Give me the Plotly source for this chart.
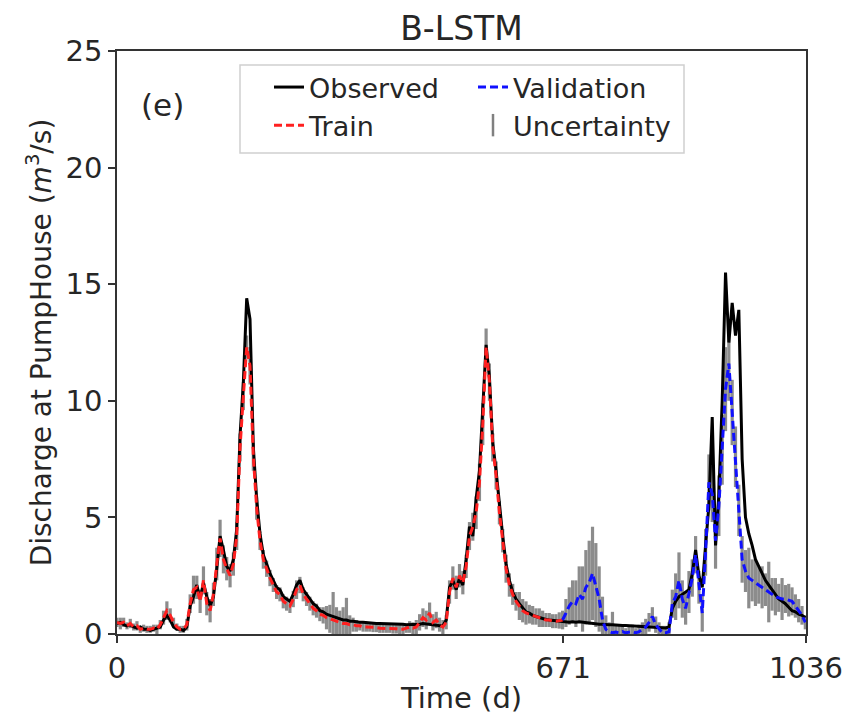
import numpy as np
import plotly.graph_objects as go

# ---------------- data (sampled every 5 days) ----------------
STEP_DAYS = 5

observed = [
    0.45, 0.5, 0.4, 0.35, 0.4, 0.3, 0.25, 0.3, 0.2, 0.2,
    0.15, 0.2, 0.25, 0.3, 0.6, 0.8, 0.6, 0.3, 0.2, 0.2,
    0.15, 0.3, 1.2, 1.6, 2.1, 1.5, 2.2, 1.6, 1.2, 1.6,
    2.8, 4.2, 3.6, 2.9, 2.7, 3.2, 4.5, 8.5, 10.8, 14.4,
    13.5, 8.0, 5.8, 4.3, 3.4, 3.0, 2.6, 2.3, 2.0, 1.9,
    1.6, 1.5, 1.4, 1.7, 2.1, 2.3, 1.9, 1.7, 1.5, 1.3,
    1.2, 1.0, 0.95, 0.85, 0.8, 0.75, 0.7, 0.65, 0.6, 0.6,
    0.55, 0.55, 0.52, 0.5, 0.5, 0.48, 0.48, 0.46, 0.45, 0.45,
    0.45, 0.44, 0.44, 0.43, 0.42, 0.42, 0.42, 0.4, 0.4, 0.4,
    0.4, 0.42, 0.45, 0.44, 0.42, 0.4, 0.38, 0.35, 0.35, 0.6,
    2.0, 2.3, 1.9, 2.4, 2.1, 3.2, 4.6, 4.2, 5.8, 7.0,
    9.5, 12.4, 11.0, 8.2, 7.0, 5.5, 4.2, 3.0, 2.3, 1.8,
    1.5, 1.3, 1.1, 0.95, 0.9, 0.8, 0.75, 0.7, 0.65, 0.62,
    0.6, 0.58, 0.55, 0.55, 0.53, 0.5, 0.5, 0.52, 0.5, 0.52,
    0.5, 0.48, 0.45, 0.45, 0.44, 0.42, 0.42, 0.4, 0.4, 0.4,
    0.38, 0.38, 0.36, 0.36, 0.35, 0.35, 0.34, 0.33, 0.33, 0.32,
    0.3, 0.3, 0.28, 0.27, 0.26, 0.26, 0.3, 1.1, 1.4, 1.6,
    1.7, 1.8, 1.9, 2.6, 3.6, 2.5, 2.0, 3.8, 5.5, 9.3,
    3.8, 6.0, 10.0, 15.5, 12.5, 14.2, 12.8, 13.9, 7.5, 5.0,
    4.3, 3.8, 3.2, 2.9, 2.6, 2.3, 2.1, 1.9, 1.7, 1.5,
    1.4, 1.3, 1.15, 1.0, 0.95, 0.85, 0.8, 0.7,
]

train_pred = [
    0.5, 0.45, 0.5, 0.35, 0.45, 0.3, 0.35, 0.2, 0.25, 0.2,
    0.2, 0.25, 0.2, 0.4, 0.7, 1.0, 0.8, 0.5, 0.3, 0.2,
    0.2, 0.4, 1.3, 1.9, 2.0, 1.4, 2.3, 1.3, 1.0, 1.7,
    3.0, 4.1, 3.2, 2.8, 2.5, 3.0, 4.2, 8.0, 10.2, 12.3,
    11.5, 7.6, 5.4, 4.0, 3.2, 2.8, 2.4, 2.1, 1.8, 1.7,
    1.4, 1.3, 1.2, 1.5, 1.9, 2.1, 1.7, 1.5, 1.3, 1.1,
    1.0, 0.85, 0.8, 0.7, 0.65, 0.6, 0.55, 0.5, 0.45, 0.45,
    0.4, 0.4, 0.35, 0.35, 0.3, 0.3, 0.3, 0.28, 0.28, 0.25,
    0.25, 0.25, 0.25, 0.22, 0.22, 0.2, 0.2, 0.25, 0.3, 0.25,
    0.3, 0.5, 0.7, 0.6, 0.9, 0.5, 0.6, 0.4, 0.3, 0.5,
    1.8, 2.4, 2.0, 2.5, 2.2, 2.9, 4.2, 4.6, 5.2, 6.5,
    9.0, 12.3, 10.8, 8.0, 6.8, 5.2, 4.0, 2.8, 2.1, 1.7,
    1.4, 1.2, 1.0, 0.9, 0.85, 0.8, 0.75, 0.7, 0.65, 0.6,
    0.6, 0.55, 0.55, 0.58, 0.6,
]

val_pred = [
    0.6, 0.9, 1.2, 1.4, 1.3, 1.7, 1.5, 2.0, 2.2, 2.6,
    2.1, 1.5, 0.6, 0.2, 0.1, 0.05, 0.08, 0.05, 0.1, 0.05,
    0.08, 0.1, 0.05, 0.1, 0.2, 0.3, 0.5, 0.75, 0.4, 0.2,
    0.05, 0.05, 0.1, 1.3, 1.6, 2.3, 1.5, 1.1, 1.8, 2.4,
    3.4, 2.0, 0.9, 3.5, 6.5, 6.0, 4.0, 5.5, 7.9, 10.5,
    11.6, 9.5, 7.6, 5.3, 3.2, 2.7, 2.4, 2.3, 2.2, 2.1,
    2.0, 1.9, 1.8, 1.7, 1.6, 1.55, 1.5, 1.5, 1.45, 1.4,
    1.2, 1.0, 0.8, 0.5,
]

uncertainty_half = [
    0.2, 0.25, 0.2, 0.15, 0.2, 0.15, 0.2, 0.15, 0.15, 0.15,
    0.15, 0.15, 0.2, 0.2, 0.3, 0.4, 0.3, 0.2, 0.15, 0.15,
    0.15, 0.25, 0.4, 0.6, 0.5, 0.5, 0.6, 0.5, 0.5, 0.5,
    0.7, 0.8, 0.6, 0.5, 0.5, 0.5, 0.6, 0.6, 0.6, 0.5,
    0.8, 0.6, 0.5, 0.4, 0.4, 0.35, 0.35, 0.3, 0.3, 0.3,
    0.3, 0.3, 0.3, 0.35, 0.4, 0.35, 0.3, 0.3, 0.3, 0.3,
    0.3, 0.3, 0.35, 0.5, 0.6, 1.2, 0.6, 0.5, 0.7, 1.1,
    0.4, 0.3, 0.25, 0.2, 0.2, 0.2, 0.2, 0.2, 0.2, 0.2,
    0.2, 0.2, 0.2, 0.2, 0.2, 0.2, 0.2, 0.2, 0.25, 0.25,
    0.3, 0.35, 0.4, 0.4, 0.45, 0.35, 0.35, 0.3, 0.3, 0.3,
    0.5, 0.5, 0.5, 0.5, 0.5, 0.5, 0.6, 0.6, 0.7, 0.8,
    0.9, 0.8, 0.8, 0.6, 0.6, 0.5, 0.5, 0.6, 0.5, 0.45,
    0.4, 0.6, 0.5, 0.5, 0.4, 0.4, 0.35, 0.4, 0.35, 0.3,
    0.3, 0.3, 0.3, 0.35,
    0.4, 0.6, 0.8, 0.9, 1.0, 1.2, 1.4, 1.6, 1.8, 2.0,
    1.8, 1.4, 1.0, 0.6, 0.4, 0.9, 0.3, 0.3, 0.3, 0.2,
    0.25, 0.3, 0.2, 0.3, 0.3, 0.35, 0.4, 0.4, 0.35, 0.3,
    0.3, 0.3, 0.4, 0.6, 1.0, 1.2, 0.8, 0.7, 0.9, 0.8,
    0.8, 0.7, 0.8, 1.0, 1.2, 1.2, 1.2, 1.3, 1.5, 1.8,
    1.6, 1.4, 1.3, 1.1, 1.0, 0.9, 1.3, 0.9, 1.0, 0.8,
    0.9, 0.7, 1.3, 0.7, 0.8, 0.6, 0.9, 0.6, 0.7, 0.6,
    0.5, 0.5, 0.4, 0.3,
]

x_tick_vals = [0, 671, 1036]
y_tick_vals = [0, 5, 10, 15, 20, 25]

# ---------------- derived series ----------------
days = np.arange(len(observed)) * STEP_DAYS
n_train = len(train_pred)
train_days = days[:n_train]
val_days = days[n_train - 1:n_train - 1 + len(val_pred)]
pred_all = np.array(train_pred[:-1] + val_pred)
unc = np.array(uncertainty_half)
unc_minus = np.minimum(unc, pred_all)

FONT = "DejaVu Sans"
TXT = "#262626"
AX = "#333333"

# The page body adds an 8px offset; size the figure so it fits the window.
OFF = 8
FIG_W, FIG_H = 851 - OFF, 724 - OFF

fig = go.Figure()

# uncertainty as vertical gray bars
fig.add_trace(go.Scatter(
    x=days, y=pred_all, mode="markers",
    marker=dict(size=1, color="rgba(0,0,0,0)"),
    error_y=dict(type="data", symmetric=False, array=unc, arrayminus=unc_minus,
                 color="rgba(128,128,128,0.9)", thickness=3.2, width=0),
    showlegend=False, hoverinfo="skip",
))

fig.add_trace(go.Scatter(
    x=days, y=observed, mode="lines", name="Observed",
    line=dict(color="black", width=3.0), legend="legend",
))
fig.add_trace(go.Scatter(
    x=train_days, y=train_pred, mode="lines", name="Train",
    line=dict(color="#ff2020", width=3.0, dash="8px,4px"), legend="legend",
))
fig.add_trace(go.Scatter(
    x=val_days, y=val_pred, mode="lines", name="Validation",
    line=dict(color="#1010ff", width=3.0, dash="8px,4px"), legend="legend2",
))
# legend entry for uncertainty
fig.add_trace(go.Scatter(
    x=[None], y=[None], mode="markers", name="Uncertainty",
    marker=dict(symbol="line-ns-open", size=20, color="gray",
                line=dict(width=2.5, color="gray")),
    legend="legend2",
))

# plot-area geometry in page pixels -> figure coords
L, R, T, B = 117 - OFF, 806 - OFF, 51 - OFF, 634 - OFF
def px(xp):
    return (xp - OFF - L) / (R - L)
def py(yp):
    return (B - (yp - OFF)) / (B - T)

legend_font = dict(family=FONT, size=27, color=TXT)

fig.update_layout(
    width=FIG_W, height=FIG_H,
    margin=dict(l=L, r=FIG_W - R, t=T, b=FIG_H - B, autoexpand=False),
    paper_bgcolor="white", plot_bgcolor="white",
    font=dict(family=FONT, size=29, color=TXT),
    title=dict(text="B-LSTM", x=px(461.5), xref="paper", xanchor="center",
               y=1 - (28 - OFF) / FIG_H, yref="container", yanchor="middle",
               font=dict(family=FONT, size=33, color=TXT)),
    xaxis=dict(
        range=[0, 1036], tickvals=x_tick_vals, ticktext=[str(v) for v in x_tick_vals],
        ticks="outside", ticklen=7, tickwidth=1.5, tickcolor=AX,
        showline=True, linecolor=AX, linewidth=1.5, mirror=True,
        showgrid=False, zeroline=False,
        tickfont=dict(family=FONT, size=29, color=TXT),
        title=dict(text="Time (d)", standoff=4, font=dict(family=FONT, size=29, color=TXT)),
    ),
    yaxis=dict(
        range=[0, 25], tickvals=y_tick_vals,
        ticks="outside", ticklen=7, tickwidth=1.5, tickcolor=AX,
        showline=True, linecolor=AX, linewidth=1.5, mirror=True,
        showgrid=False, zeroline=False,
        tickfont=dict(family=FONT, size=29, color=TXT),
        title=dict(text="Discharge at PumpHouse (<i>m</i><sup>3</sup>/s)", standoff=6,
                   font=dict(family=FONT, size=28, color=TXT)),
    ),
    legend=dict(x=px(269), y=py(63), xanchor="left", yanchor="top",
                bgcolor="rgba(0,0,0,0)", borderwidth=0, font=legend_font,
                tracegroupgap=0, itemclick=False),
    legend2=dict(x=px(473), y=py(63), xanchor="left", yanchor="top",
                 bgcolor="rgba(0,0,0,0)", borderwidth=0, font=legend_font,
                 tracegroupgap=0, itemclick=False),
    shapes=[dict(type="rect", xref="paper", yref="paper",
                 x0=px(240), x1=px(684), y0=py(153), y1=py(65),
                 line=dict(color="#d0d0d0", width=1.5),
                 fillcolor="rgba(255,255,255,0.8)", layer="above")],
    annotations=[dict(text="(e)", x=px(162), y=py(105), xref="paper", yref="paper",
                      showarrow=False, xanchor="center", yanchor="middle",
                      font=dict(family=FONT, size=31, color=TXT))],
)

fig.write_html("out.html")
